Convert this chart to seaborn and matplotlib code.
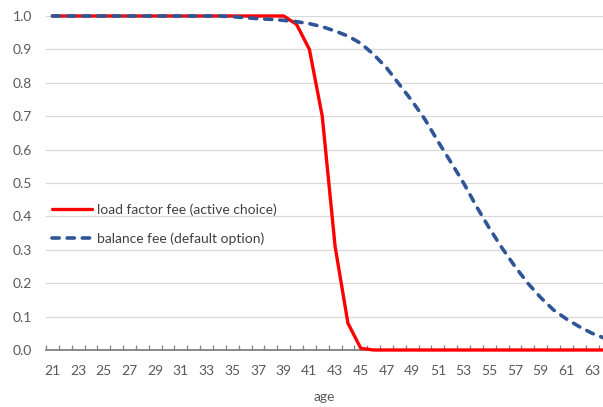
import matplotlib
matplotlib.use("Agg")
import matplotlib.pyplot as plt
import numpy as np
import pandas as pd
import seaborn as sns

# ages on the category axis
ages = list(range(21, 65))

# share still in the scheme
load_factor_fee = [1.0] * 19 + [0.975, 0.90, 0.70, 0.31, 0.08, 0.005] + [0.0] * 19
balance_fee = [
    1.0, 1.0, 1.0, 1.0, 1.0, 1.0, 1.0, 1.0, 1.0, 1.0, 1.0, 1.0, 1.0, 1.0,
    0.998, 0.995, 0.992, 0.99, 0.987, 0.983, 0.977, 0.968, 0.955, 0.94,
    0.918, 0.885, 0.845, 0.795, 0.745, 0.69, 0.625, 0.563, 0.50, 0.43,
    0.365, 0.305, 0.25, 0.20, 0.157, 0.12, 0.093, 0.07, 0.05, 0.035,
]

label_red = "load factor fee (active choice)"
label_blue = "balance fee (default option)"
y_ticks = [0.0, 0.1, 0.2, 0.3, 0.4, 0.5, 0.6, 0.7, 0.8, 0.9, 1.0]

sns.set_theme(style="white")
plt.rcParams["font.family"] = ["Lato", "DejaVu Sans"]

fig = plt.figure(figsize=(6.03, 4.07), dpi=100)
ax = fig.add_axes([46 / 603, 57 / 407, 557 / 603, 334 / 407])

sns.lineplot(x=ages, y=load_factor_fee, ax=ax, color="#ff0000", linewidth=2.4,
             label=label_red)
sns.lineplot(x=ages, y=balance_fee, ax=ax, color="#2f5597", linewidth=2.6,
             label=label_blue)

blue = ax.lines[1]
blue.set_dashes((2.0, 2.2))
blue.set_dash_capstyle("round")
for ln in ax.lines:
    ln.set_clip_on(False)
    ln.set_zorder(3)

ax.set_xlim(20.5, 63.85)
ax.set_ylim(0, 1.0)

# gridlines
for v in y_ticks[1:]:
    ax.axhline(v, color="#d9d9d9", linewidth=0.9, zorder=0)

ax.set_yticks(y_ticks)
ax.set_yticklabels([f"{v:.1f}" for v in y_ticks])
ax.tick_params(axis="y", left=False, length=0, pad=10, labelsize=10,
               labelcolor="#595959")

# tick marks between categories, labels on every other age
ax.set_xticks(np.arange(20.5, 64, 1.0))
ax.set_xticklabels([])
ax.set_xticks(ages[::2], minor=True)
ax.set_xticklabels([str(a) for a in ages[::2]], minor=True)
ax.tick_params(axis="x", which="major", bottom=True, direction="in", length=3.5,
               width=0.9, color="#808080")
ax.tick_params(axis="x", which="minor", bottom=True, length=0, pad=11,
               labelsize=10, labelcolor="#595959")

for side in ["top", "right", "left"]:
    ax.spines[side].set_visible(False)
ax.spines["bottom"].set_color("#808080")
ax.spines["bottom"].set_linewidth(1.3)

ax.set_xlabel("age", fontsize=10, color="#595959", labelpad=10)
ax.set_ylabel("")

ax.legend(loc="upper left", bbox_to_anchor=(0.011, 0.44), frameon=False,
          fontsize=10, handlelength=2.9, handletextpad=0.35, labelspacing=1.2,
          borderpad=0, borderaxespad=0, labelcolor="#404040")

fig.savefig("out.png", dpi=100)
